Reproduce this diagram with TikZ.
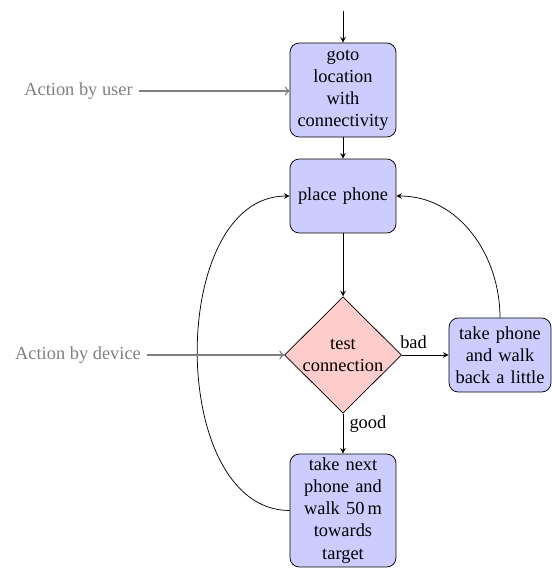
\documentclass[tikz,border=0pt]{standalone}
\usepackage{fontspec}
\setmainfont{Liberation Serif}
\usetikzlibrary{shapes.geometric,arrows}
\begin{document}
\begin{tikzpicture}[x=0.5435pt,y=-0.5435pt,
  box/.style={draw, fill=blue!20, rounded corners=5pt, align=center, text width=52pt, inner sep=0pt, minimum width=57.6pt},
  dec/.style={draw, fill=red!20, diamond, aspect=1, inner sep=0pt, minimum width=63.6pt, minimum height=63.3pt},
  flow/.style={-stealth},
  act/.style={draw=gray, thick, ->},
  actlabel/.style={text=gray}]
\useasboundingbox (0,0) rectangle (552,569);
\coordinate (top) at (343,11);
\node[box, minimum height=51.1pt] (n1) at (343,90) {goto location with connectivity};
\node[box, minimum height=40.2pt] (n2) at (343,196) {place phone};
\node[dec, label={[align=center]center:test\\connection}] (d) at (343,355) {};
\node[box, minimum width=55.4pt, minimum height=40.2pt] (r) at (500,355) {take phone and walk back a little};
\node[box, minimum height=61.4pt] (b) at (343,510.5) {take next phone and walk 50\,m towards target};
\node[actlabel] (ua) at (78.5,91) {Action by user};
\node[actlabel] (da) at (78,355) {Action by device};

\draw[flow] (top) -- (n1);
\draw[flow] (n1) -- (n2);
\draw[flow] (n2) -- (d);
\draw[flow] (d) -- node[above,pos=0.25]{bad} (r);
\draw[flow] (d) -- node[right,pos=0.25]{good} (b);
\draw[flow] (r.north) to[out=90,in=0] (n2.east);
\draw[flow] (b.west) to[out=180,in=180] (n2.west);
\draw[act] (ua.east) -- (ua.east -| n1.west);
\draw[act] (da.east) -- (d.west);
\end{tikzpicture}
\end{document}
